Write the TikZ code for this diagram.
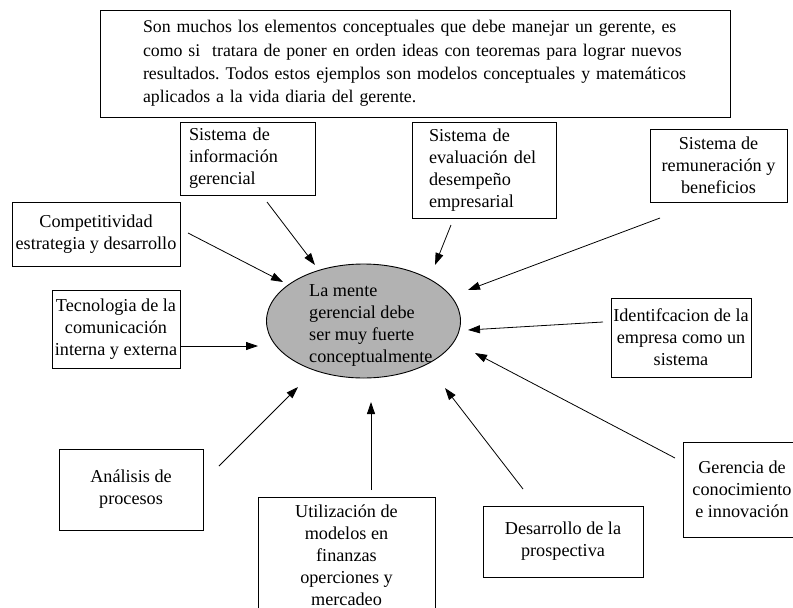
\documentclass[tikz,border=0pt]{standalone}
\usepackage{fontspec}
\setmainfont{Liberation Serif}
\usetikzlibrary{arrows.meta,shapes.geometric}
\definecolor{mindfill}{RGB}{178,178,178}
\frenchspacing
\begin{document}
\begin{tikzpicture}[x=1pt,y=-1pt,
  every node/.style={font=\fontsize{18.2}{22}\selectfont},
  box/.style 2 args={draw, line width=0.9pt, inner sep=0pt,
    minimum width=#1, minimum height=#2, align=center},
  lbox/.style n args={4}{draw, line width=0.9pt, inner ysep=0pt,
    inner xsep=#3, text width=#4, align=left,
    minimum width=#1, minimum height=#2},
  feed/.style={-{Triangle[length=12pt,width=8pt]}, line width=0.8pt}
]
\useasboundingbox (0,0) rectangle (793,608);
\clip (0,0) rectangle (793,608);

% introductory note
\node[lbox={630}{107}{43}{544}, font=\fontsize{17.8}{23.2}\selectfont] (intro) at (415,63.5)
  {\mbox{Son muchos los elementos conceptuales que debe manejar un gerente, es}\\
   \mbox{como si\ \ tratara de poner en orden ideas con teoremas para lograr nuevos}\\
   \mbox{resultados. Todos estos ejemplos son modelos conceptuales y matemáticos}\\
   \mbox{aplicados a la vida diaria del gerente.}};

% central idea
\node[ellipse, draw, line width=0.9pt, fill=mindfill, inner sep=0pt,
  minimum width=194, minimum height=114] (mind) at (363.5,321) {};
\node[align=left, anchor=west, inner sep=0pt] (mindtext) at (309,325)
  {La mente\\gerencial debe\\ser muy fuerte\\conceptualmente};

% surrounding concepts
\node[lbox={135}{73}{9}{117}] (info) at (247.5,158.5)
  {Sistema de\\información\\gerencial};
\node[lbox={144}{96}{17}{110}] (eval) at (484,170)
  {Sistema de\\evaluación del\\desempeño\\empresarial};
\node[box={137}{73}] (remun) at (718.5,165.5)
  {Sistema de\\remuneración y\\beneficios};
\node[box={168}{64}] (compet) at (96,234)
  {Competitividad\\estrategia y desarrollo};
\node[box={128}{78}] (tecno) at (116,329)
  {Tecnologia de la\\comunicación\\interna y externa};
\node[box={140}{79}] (ident) at (681,337.5)
  {Identifcacion de la\\empresa como un\\sistema};
\node[box={144}{81}] (anal) at (131,489.5)
  {Análisis de\\procesos};
\node[box={177}{116}] (util) at (346.5,555)
  {Utilización de\\modelos en\\finanzas\\operciones y\\mercadeo};
\node[box={160}{71}] (desar) at (563,541.5)
  {Desarrollo de la\\prospectiva};
\node[box={118}{95}] (geren) at (742,489.5)
  {Gerencia de\\conocimiento\\e innovación};

% arrow ends
\coordinate (infoS) at (267,202);   \coordinate (infoE) at (315,265);
\coordinate (competS) at (188,233); \coordinate (competE) at (283,282);
\coordinate (tecnoS) at (180,346);  \coordinate (tecnoE) at (258,346);
\coordinate (evalS) at (451,225);   \coordinate (evalE) at (435,265);
\coordinate (remunS) at (660,218);  \coordinate (remunE) at (468,290);
\coordinate (identS) at (603,322);  \coordinate (identE) at (468,330);
\coordinate (gerenS) at (675,458);  \coordinate (gerenE) at (475,353);
\coordinate (desarS) at (523,489);  \coordinate (desarE) at (445,388);
\coordinate (utilS) at (371,490);   \coordinate (utilE) at (371,402);
\coordinate (analS) at (219,466);   \coordinate (analE) at (298,387);

\draw[feed] (infoS) -- (infoE);
\draw[feed] (competS) -- (competE);
\draw[feed] (tecnoS) -- (tecnoE);
\draw[feed] (evalS) -- (evalE);
\draw[feed] (remunS) -- (remunE);
\draw[feed] (identS) -- (identE);
\draw[feed] (gerenS) -- (gerenE);
\draw[feed] (desarS) -- (desarE);
\draw[feed] (utilS) -- (utilE);
\draw[feed] (analS) -- (analE);
\end{tikzpicture}
\end{document}
